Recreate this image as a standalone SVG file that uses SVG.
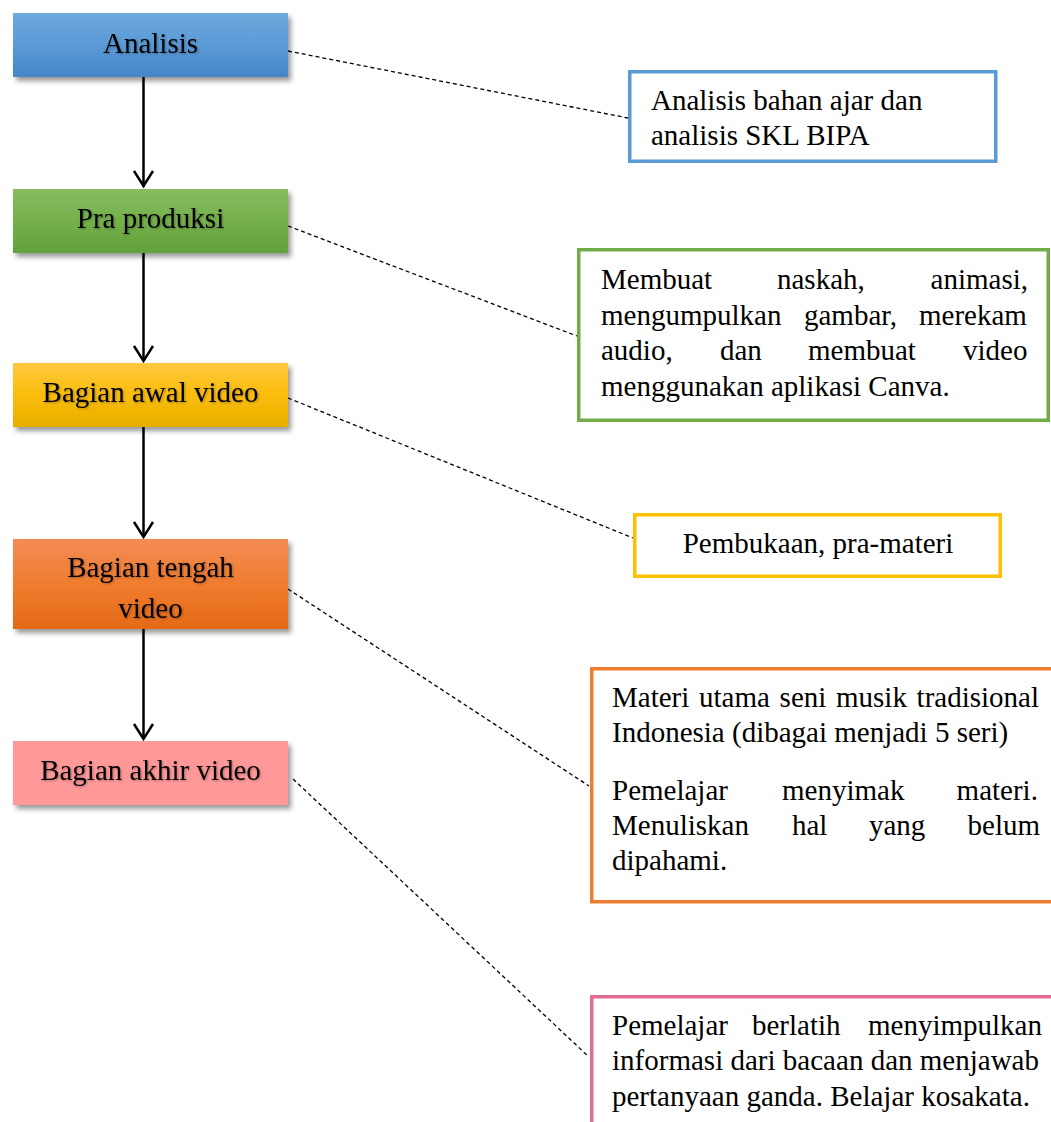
<svg xmlns="http://www.w3.org/2000/svg" width="1051" height="1122" viewBox="0 0 1051 1122">
<defs>
<style>
text{font-family:"Liberation Serif","Times New Roman",serif;font-size:29px;fill:#000}
.lbl{text-anchor:middle;filter:url(#ts)}
.step{filter:url(#ds)}
.note{fill:#fff;stroke-width:3.5}
.dash{stroke:#000;stroke-width:1.3;stroke-dasharray:4 3;fill:none}
.flow{stroke:#000;stroke-width:2.5;fill:none}
</style>
<filter id="ds" x="-10%" y="-20%" width="130%" height="150%">
<feDropShadow dx="3" dy="4" stdDeviation="2.5" flood-color="#000" flood-opacity="0.4"/>
</filter>
<filter id="ts" x="-10%" y="-30%" width="120%" height="160%">
<feDropShadow dx="1" dy="1" stdDeviation="1" flood-color="#000" flood-opacity="0.3"/>
</filter>
<linearGradient id="gb" x1="0" y1="0" x2="0" y2="1"><stop offset="0" stop-color="#70a9de"/><stop offset="0.5" stop-color="#5a9ad6"/><stop offset="1" stop-color="#4586c6"/></linearGradient>
<linearGradient id="gg" x1="0" y1="0" x2="0" y2="1"><stop offset="0" stop-color="#87bd60"/><stop offset="0.5" stop-color="#74b04a"/><stop offset="1" stop-color="#62a23a"/></linearGradient>
<linearGradient id="gy" x1="0" y1="0" x2="0" y2="1"><stop offset="0" stop-color="#fdc941"/><stop offset="0.5" stop-color="#fbbd0a"/><stop offset="1" stop-color="#e8ae00"/></linearGradient>
<linearGradient id="go" x1="0" y1="0" x2="0" y2="1"><stop offset="0" stop-color="#f28c55"/><stop offset="0.5" stop-color="#f07c2e"/><stop offset="1" stop-color="#e56a17"/></linearGradient>
</defs>
<rect width="1051" height="1122" fill="#fff"/>

<g id="connectors">
<line class="flow" x1="143.5" y1="77" x2="143.5" y2="187"/>
<line class="flow" x1="143.5" y1="253" x2="143.5" y2="361"/>
<line class="flow" x1="143.5" y1="427" x2="143.5" y2="537"/>
<line class="flow" x1="143.5" y1="629" x2="143.5" y2="739"/>
<path class="flow" d="M134,171 L143.5,186 L153,171"/>
<path class="flow" d="M134,346 L143.5,361 L153,346"/>
<path class="flow" d="M134,522 L143.5,537 L153,522"/>
<path class="flow" d="M134,724 L143.5,739 L153,724"/>
<line class="dash" x1="288" y1="51" x2="628" y2="118"/>
<line class="dash" x1="288" y1="226" x2="577" y2="336"/>
<line class="dash" x1="288" y1="398" x2="633" y2="538"/>
<line class="dash" x1="288" y1="589" x2="589" y2="786"/>
<line class="dash" x1="293" y1="779" x2="589" y2="1057"/>
</g>

<g id="analisis">
<rect class="step" x="13" y="13" width="275" height="64" fill="url(#gb)"/>
<text class="lbl" x="150.5" y="53">Analisis</text>
</g>
<g id="pra-produksi">
<rect class="step" x="13" y="189" width="275" height="64" fill="url(#gg)"/>
<text class="lbl" x="150.5" y="228">Pra produksi</text>
</g>
<g id="bagian-awal">
<rect class="step" x="13" y="363" width="275" height="64" fill="url(#gy)"/>
<text class="lbl" x="150.5" y="402">Bagian awal video</text>
</g>
<g id="bagian-tengah">
<rect class="step" x="13" y="539" width="275" height="90" fill="url(#go)"/>
<text class="lbl" x="150.5" y="577">Bagian tengah</text>
<text class="lbl" x="150.5" y="618">video</text>
</g>
<g id="bagian-akhir">
<rect class="step" x="13" y="741" width="275" height="64" fill="#ff9898"/>
<text class="lbl" x="150.5" y="780">Bagian akhir video</text>
</g>

<g id="note-analisis">
<rect class="note" x="629.75" y="71.75" width="366" height="89.5" stroke="#5b9bd5"/>
<text x="651" y="110">Analisis bahan ajar dan</text>
<text x="651" y="145">analisis SKL BIPA</text>
</g>
<g id="note-pra-produksi">
<rect class="note" x="578.75" y="249.75" width="469.5" height="170.5" stroke="#70ad47"/>
<text y="289"><tspan x="601">Membuat</tspan><tspan x="777">naskah,</tspan><tspan x="1028" text-anchor="end">animasi,</tspan></text>
<text y="324.5"><tspan x="601">mengumpulkan</tspan><tspan x="804">gambar,</tspan><tspan x="919">merekam</tspan></text>
<text y="360"><tspan x="601">audio,</tspan><tspan x="720">dan</tspan><tspan x="808">membuat</tspan><tspan x="963">video</tspan></text>
<text x="601" y="395.5">menggunakan aplikasi Canva.</text>
</g>
<g id="note-awal">
<rect class="note" x="634.75" y="514.75" width="365.5" height="61.5" stroke="#ffc000"/>
<text x="818" y="553" text-anchor="middle">Pembukaan, pra-materi</text>
</g>
<g id="note-tengah">
<rect class="note" x="591.75" y="668.75" width="480" height="233" stroke="#ed7d31"/>
<text y="707"><tspan x="612">Materi</tspan><tspan x="699">utama</tspan><tspan x="779.6">seni</tspan><tspan x="836">musik</tspan><tspan x="916.6">tradisional</tspan></text>
<text x="612" y="742">Indonesia (dibagai menjadi 5 seri)</text>
<text y="800"><tspan x="612">Pemelajar</tspan><tspan x="782">menyimak</tspan><tspan x="956.6">materi.</tspan></text>
<text y="835"><tspan x="612">Menuliskan</tspan><tspan x="792">hal</tspan><tspan x="869">yang</tspan><tspan x="967.6">belum</tspan></text>
<text x="612" y="870">dipahami.</text>
</g>
<g id="note-akhir">
<rect class="note" x="591.75" y="996.75" width="480" height="160" stroke="#e06c93"/>
<text y="1035"><tspan x="612">Pemelajar</tspan><tspan x="752">berlatih</tspan><tspan x="868">menyimpulkan</tspan></text>
<text x="612" y="1070" textLength="427" lengthAdjust="spacing">informasi dari bacaan dan menjawab</text>
<text x="612" y="1106">pertanyaan ganda. Belajar kosakata.</text>
</g>
</svg>
